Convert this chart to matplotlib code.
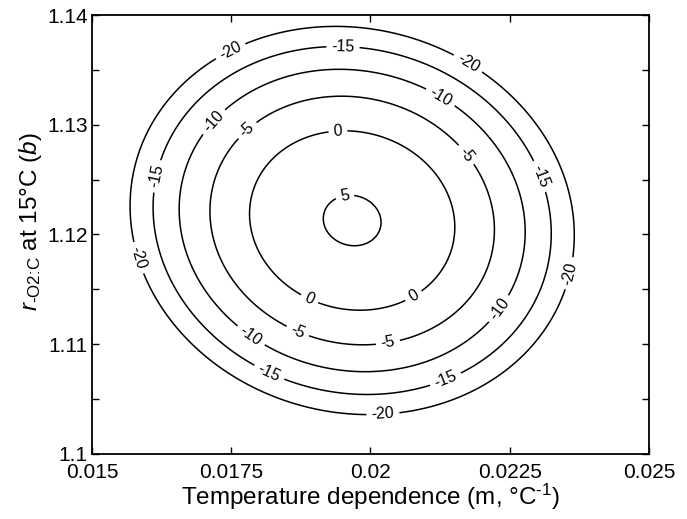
import numpy as np
from matplotlib import pyplot as plt
from matplotlib.ticker import FormatStrFormatter, MultipleLocator

plt.rcParams['font.family'] = ['Liberation Sans', 'DejaVu Sans']
plt.rcParams['mathtext.fontset'] = 'custom'
plt.rcParams['mathtext.rm'] = 'Liberation Sans'
plt.rcParams['mathtext.it'] = 'Liberation Sans:italic'
plt.rcParams['axes.unicode_minus'] = False

# response surface: peak value, optimum location and curvature scales
peak = 5.43
m_opt = 0.019671
b_opt = 1.121277
m_scale = 7.885e-4
b_scale = 3.502e-3
cross = 0.15

levels = [-20, -15, -10, -5, 0, 5]
x_ticks = [0.015, 0.0175, 0.02, 0.0225, 0.025]
y_ticks = [1.1, 1.11, 1.12, 1.13, 1.14]

# where the level labels sit (pixel coords of the figure)
label_px = [(230, 50), (467, 65), (138, 258), (568, 273), (383, 415),
            (343, 48), (160, 177), (538, 177), (268, 375), (445, 378),
            (215, 123), (440, 98), (498, 308), (250, 337),
            (247, 130), (466, 155), (297, 333), (388, 343),
            (338, 132), (309, 300), (413, 295),
            (345, 197)]

m = np.linspace(0.015, 0.025, 500)
b = np.linspace(1.1, 1.14, 500)
M, B = np.meshgrid(m, b)
u = (M - m_opt) / m_scale
w = (B - b_opt) / b_scale
Z = peak - (u**2 + w**2 + cross*u*w)

fig = plt.figure(figsize=(6.87, 5.19), dpi=100)
ax = fig.add_axes([92/687, 65.3/519, 557/687, 438.4/519])

cs = ax.contour(M, B, Z, levels=levels, colors='k', linewidths=1.1,
                linestyles='solid')

def px_to_data(px, py):
    return (0.015 + (px - 92) / 557 * 0.01, 1.14 - (py - 15.3) / 438.4 * 0.04)

manual = [px_to_data(px, py) for px, py in label_px]
ax.clabel(cs, fmt='%d', fontsize=11.5, manual=manual, inline=True, inline_spacing=5)

ax.set_xlim(0.015, 0.025)
ax.set_ylim(1.1, 1.14)
ax.set_xticks(x_ticks)
ax.set_yticks(y_ticks)
ax.yaxis.set_minor_locator(MultipleLocator(0.005))
ax.xaxis.set_major_formatter(FormatStrFormatter('%g'))
ax.yaxis.set_major_formatter(FormatStrFormatter('%g'))
ax.tick_params(which='both', direction='in', top=True, right=True,
               length=5, width=1.0, labelsize=15)
ax.tick_params(axis='x', pad=6.5)
ax.tick_params(axis='y', pad=3)
for s in ax.spines.values():
    s.set_linewidth(1.3)

ax.set_xlabel('Temperature dependence (m, °C$^{\\text{-1}}$)', fontsize=17.5, labelpad=0)
ax.set_ylabel('$r_{\\text{-O2:C}}$ at 15°C ($b$)', fontsize=17.5)
ax.yaxis.set_label_coords(-0.087, 0.53)

plt.savefig('out.png', dpi=100)
